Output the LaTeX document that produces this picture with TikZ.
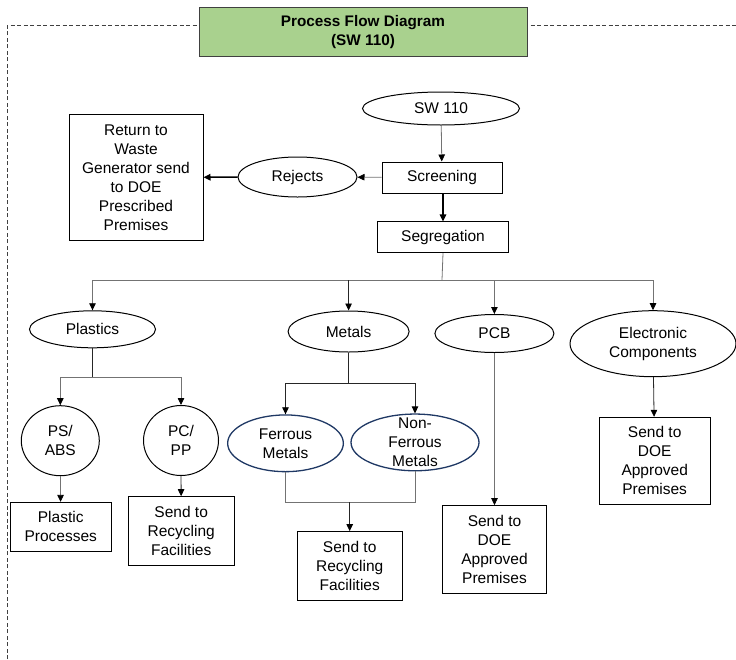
\documentclass[tikz,border=0pt]{standalone}
\usepackage{fontspec}
\setmainfont{Liberation Sans}
\usetikzlibrary{
    arrows.meta,
    positioning,
    calc,
    shapes.geometric
}
\definecolor{titlegreen}{HTML}{A9D18E}
\definecolor{metalblue}{HTML}{1F3864}
\tikzset{
    % --- Process box ---
    block/.style = {
        rectangle, draw, line width=1pt,
        inner sep=0pt, align=center,
        font=\fontsize{15.5}{19}\selectfont
    },
    % --- Material / stream oval ---
    oval/.style = {
        ellipse, draw, line width=1pt,
        inner sep=0pt, align=center,
        font=\fontsize{15.5}{19}\selectfont
    },
    % --- Metal sub-stream oval (blue outline) ---
    metal oval/.style = {
        oval, draw=metalblue, line width=1.3pt
    },
    % --- Heading block ---
    title block/.style = {
        rectangle, draw=black!75, line width=1pt,
        fill=titlegreen, align=center,
        font=\bfseries\fontsize{15.3}{19.5}\selectfont
    },
    % --- Light flow arrow ---
    flow/.style = {
        draw=black!55, line width=0.8pt,
        -{Triangle[length=7pt, width=6.5pt, color=black]}
    },
    % --- Dark flow arrow ---
    dark flow/.style = {
        flow, draw=black!85
    },
    % --- Main flow arrow ---
    main flow/.style = {
        draw=black, line width=1.5pt,
        -{Triangle[length=7pt, width=6.5pt]}
    },
    % --- Branch wire without head ---
    branch/.style = {
        draw=black!55, line width=0.8pt
    },
    dark branch/.style = {
        branch, draw=black!85
    },
    % --- Dashed page frame ---
    page frame/.style = {
        draw=black!75, line width=0.8pt,
        dash pattern=on 4pt off 2.5pt
    }
}

\begin{document}
\begin{tikzpicture}[x=1pt, y=-1pt]

\useasboundingbox (0,0) rectangle (736,659);

% ---------------------------------------------------------
% Frame and heading
% ---------------------------------------------------------
\draw[page frame] (7.3,659) |- (736,25.3);
\node[title block, minimum width=328pt, minimum height=49.3pt] (title) at (363,31.8)
    {Process Flow Diagram\\(SW 110)};

% ---------------------------------------------------------
% Intake and screening
% ---------------------------------------------------------
\node[oval, minimum width=157pt, minimum height=33pt] (sw) at (441,108.5) {SW 110};
\node[block, minimum width=120pt, minimum height=31pt] (screening) at (442,177.5) {Screening};
\node[oval, minimum width=119pt, minimum height=40pt] (rejects) at (297.5,177) {Rejects};
\node[block, minimum width=134pt, minimum height=126.7pt] (returnbox) at (136,177.4)
    {Return to\\Waste\\Generator send\\to DOE\\Prescribed\\Premises};
\node[block, minimum width=131.7pt, minimum height=30.7pt] (segregation) at (443,237.3) {Segregation};

\draw[flow] (sw) -- (screening);
\draw[flow] (screening) -- (rejects);
\draw[main flow] (rejects) -- (returnbox);
\draw[main flow] (screening.south -| segregation) -- (segregation);

% ---------------------------------------------------------
% Segregated streams
% ---------------------------------------------------------
\node[oval, minimum width=126pt, minimum height=37pt] (plastics) at (92.5,329.3) {Plastics};
\node[oval, minimum width=121pt, minimum height=41pt] (metals) at (348.6,331.5) {Metals};
\node[oval, minimum width=119pt, minimum height=38pt] (pcb) at (494.4,333.5) {PCB};
\node[oval, minimum width=166pt, minimum height=66pt] (electronic) at (653,343.7)
    {Electronic\\Components};

\coordinate (segsplit) at (442,280);
\draw[branch] (segregation.south) -- (segsplit);
\draw[flow] (segsplit) -| (plastics.north);
\draw[dark flow] (segsplit -| metals.north) -- (metals.north);
\draw[flow] (segsplit -| pcb.north) -- (pcb.north);
\draw[flow] (segsplit) -| (electronic.north);

% ---------------------------------------------------------
% Plastics branch
% ---------------------------------------------------------
\node[oval, minimum width=78pt, minimum height=70pt] (psabs) at (60.3,440.7) {PS/\\ABS};
\node[oval, minimum width=75pt, minimum height=70pt] (pcpp) at (181,440.5) {PC/\\PP};
\node[block, minimum width=100.7pt, minimum height=48.7pt] (plasticproc) at (60.7,526.7)
    {Plastic\\Processes};
\node[block, minimum width=105.7pt, minimum height=69pt] (pcrecycle) at (181.2,531.2)
    {Send to\\Recycling\\Facilities};

\coordinate (plsplit) at (92.5,377.3);
\draw[dark branch] (plastics.south) -- (plsplit);
\draw[flow] (plsplit) -| (psabs.north);
\draw[flow] (plsplit) -| (pcpp.north);
\draw[flow] (psabs) -- (plasticproc);
\draw[dark flow] (pcpp) -- (pcrecycle);

% ---------------------------------------------------------
% Metals branch
% ---------------------------------------------------------
\node[metal oval, minimum width=115.7pt, minimum height=56.7pt] (ferrous) at (285.5,443.3)
    {Ferrous\\Metals};
\node[metal oval, minimum width=128pt, minimum height=56.7pt] (nonferrous) at (415,442.4) {};
\node[align=center, font=\fontsize{15.5}{19}\selectfont] (nonferroustext) at (415,442.7)
    {Non-\\Ferrous\\Metals};
\node[block, minimum width=105.3pt, minimum height=68.7pt] (metalrecycle) at (349.7,566)
    {Send to\\Recycling\\Facilities};

\coordinate (mesplit) at (348.6,383.3);
\coordinate (mejoin) at (349.7,502);
\draw[dark branch] (metals.south) -- (mesplit);
\draw[dark flow] (mesplit) -| (ferrous.north);
\draw[dark flow] (mesplit) -| (nonferrous.north);
\draw[branch] (ferrous.south) |- (mejoin);
\draw[branch] (nonferrous.south) |- (mejoin);
\draw[dark flow] (mejoin) -- (metalrecycle);

% ---------------------------------------------------------
% PCB and electronic components
% ---------------------------------------------------------
\node[block, minimum width=103.7pt, minimum height=87.7pt] (pcbdoe) at (494.5,549.5)
    {Send to\\DOE\\Approved\\Premises};
\node[block, minimum width=111.3pt, minimum height=87pt] (elecdoe) at (654.7,460.8)
    {Send to\\DOE\\Approved\\Premises};

\draw[flow] (pcb) -- (pcbdoe);
\draw[dark flow] (electronic) -- (elecdoe);

\end{tikzpicture}
\end{document}
